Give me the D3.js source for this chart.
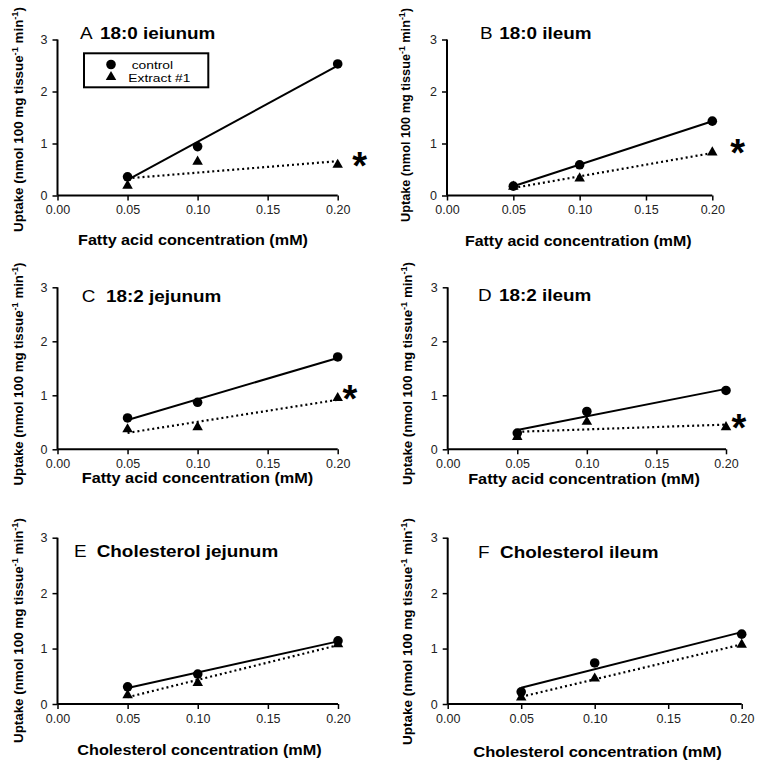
<!DOCTYPE html>
<html><head><meta charset="utf-8">
<script src="https://cdn.jsdelivr.net/npm/d3@7"></script>
<style>body{margin:0;background:#fff}svg{display:block}</style>
</head><body>
<script>
// ---------- DATA ----------
const concentrations = [0.05, 0.10, 0.20];
const xTickValues = [0.00, 0.05, 0.10, 0.15, 0.20];
const yTickValues = [0, 1, 2, 3];
const seriesNames = ["control", "Extract #1"];
const panelLetters = ["A", "B", "C", "D", "E", "F"];
const panelTitles = ["18:0 ieiunum", "18:0 ileum", "18:2 jejunum", "18:2 ileum", "Cholesterol jejunum", "Cholesterol ileum"];
const xAxisTitles = ["Fatty acid concentration (mM)", "Fatty acid concentration (mM)", "Fatty acid concentration (mM)", "Fatty acid concentration (mM)", "Cholesterol concentration (mM)", "Cholesterol concentration (mM)"];
const significant = [true, true, true, true, false, false];
const controlA = [0.36, 0.94, 2.53], extractA = [0.19, 0.65, 0.59];
const controlB = [0.18, 0.59, 1.43], extractB = [0.17, 0.33, 0.83];
const controlC = [0.58, 0.87, 1.71], extractC = [0.37, 0.41, 0.95];
const controlD = [0.30, 0.70, 1.09], extractD = [0.23, 0.51, 0.41];
const controlE = [0.31, 0.54, 1.14], extractE = [0.16, 0.38, 1.08];
const controlF = [0.22, 0.74, 1.26], extractF = [0.12, 0.46, 1.07];
const controlSeries = [controlA, controlB, controlC, controlD, controlE, controlF];
const extractSeries = [extractA, extractB, extractC, extractD, extractE, extractF];

// ---------- LAYOUT ----------
const layout = [
  {x0:57.5, x1:337.7, yb:195.5, yt:39.5, lx:80, tx:100, ty:39.3, ylx:23, yly:119.5, ylLen:225, xlx:193, xly:245, xlLen:230, ast:22},
  {x0:447, x1:712.3, yb:195.5, yt:39.5, lx:480, tx:499.3, ty:39, ylx:410, yly:115, ylLen:214, xlx:578.3, xly:245.7, xlLen:226.7, ast:25.4},
  {x0:57.5, x1:337.7, yb:449.3, yt:287.3, lx:81.7, tx:106, ty:301.7, ylx:23, yly:374, ylLen:223, xlx:197.5, xly:483.3, xlLen:231.6, ast:12.3},
  {x0:447.7, x1:726, yb:449.3, yt:287.3, lx:478, tx:499, ty:301, ylx:412, yly:373.5, ylLen:223, xlx:584, xly:484.3, xlLen:231.7, ast:13},
  {x0:57.5, x1:338, yb:704, yt:537.7, lx:74, tx:96.7, ty:556.7, ylx:23, yly:630.5, ylLen:225, xlx:199.5, xly:755, xlLen:244.4, ast:14},
  {x0:447.7, x1:741.7, yb:704, yt:537.7, lx:478, tx:500, ty:558, ylx:412, yly:631.5, ylLen:227, xlx:597.5, xly:756.7, xlLen:248.4, ast:14}
];
const FONT = "'Liberation Sans', Arial, Helvetica, sans-serif";

const svg = d3.select("body").append("svg").attr("width", 762).attr("height", 769)
  .style("font-family", FONT);

function stretch(sel, k) {
  sel.each(function () {
    const w = this.getComputedTextLength();
    d3.select(this).attr("textLength", w * k).attr("lengthAdjust", "spacingAndGlyphs");
  });
}
function regress(xs, ys) {
  const mx = d3.mean(xs), my = d3.mean(ys);
  let sxy = 0, sxx = 0;
  xs.forEach((x, i) => { sxy += (x - mx) * (ys[i] - my); sxx += (x - mx) * (x - mx); });
  const b = sxy / sxx, a = my - b * mx;
  return x => a + b * x;
}
const triangle = d3.symbol().type(d3.symbolTriangle).size(48);

layout.forEach((L, i) => {
  const g = svg.append("g");
  const x = d3.scaleLinear().domain([0, 0.2]).range([L.x0, L.x1]);
  const y = d3.scaleLinear().domain([0, 3]).range([L.yb, L.yt]);

  // axes
  const xAxis = g.append("g").attr("transform", `translate(0,${L.yb})`)
    .call(d3.axisBottom(x).tickValues(xTickValues).tickFormat(d3.format(".2f")).tickSize(5).tickPadding(5));
  const yAxis = g.append("g").attr("transform", `translate(${L.x0},0)`)
    .call(d3.axisLeft(y).tickValues(yTickValues).tickFormat(d3.format("d")).tickSize(5).tickPadding(5));
  [xAxis, yAxis].forEach(ax => {
    ax.select(".domain").attr("stroke", "#000").attr("stroke-width", 2);
    ax.selectAll(".tick line").attr("stroke", "#000").attr("stroke-width", 1.5);
    ax.selectAll(".tick text").attr("fill", "#222").style("font-size", "12.5px").style("font-family", FONT);
  });
  xAxis.select(".domain").attr("d", `M${L.x0},0H${L.x1}`);
  yAxis.select(".domain").attr("d", `M0,${L.yb}V${L.yt}`);

  // fit lines
  const ctrl = controlSeries[i], ext = extractSeries[i];
  const fc = regress(concentrations, ctrl), fe = regress(concentrations, ext);
  const xmin = d3.min(concentrations), xmax = d3.max(concentrations);
  const line = d3.line().x(d => x(d[0])).y(d => y(d[1]));
  g.append("path").attr("d", line([[xmin, fe(xmin)], [xmax, fe(xmax)]]))
    .attr("fill", "none").attr("stroke", "#000").attr("stroke-width", 2.2).attr("stroke-dasharray", "2,3");
  g.append("path").attr("d", line([[xmin, fc(xmin)], [xmax, fc(xmax)]]))
    .attr("fill", "none").attr("stroke", "#000").attr("stroke-width", 2);

  // markers
  g.selectAll(".tri").data(concentrations.map((c, j) => [c, ext[j]])).join("path")
    .attr("d", triangle).attr("transform", d => `translate(${x(d[0])},${y(d[1])})`).attr("fill", "#000");
  g.selectAll(".circ").data(concentrations.map((c, j) => [c, ctrl[j]])).join("circle")
    .attr("cx", d => x(d[0])).attr("cy", d => y(d[1])).attr("r", 4.8).attr("fill", "#000");

  // significance asterisk
  if (significant[i]) {
    const ax = x(xmax) + L.ast, ay = y(ext[ext.length - 1]);
    const t = g.append("text").text("*").attr("x", 0).attr("y", 0)
      .style("font-size", "38px").style("font-weight", "bold").attr("fill", "#000");
    const bb = t.node().getBBox();
    t.attr("x", ax - bb.width / 2).attr("y", ay + 0.6 * 38 * 0.6);
  }

  // panel title
  g.append("text").attr("x", L.lx).attr("y", L.ty).text(panelLetters[i])
    .style("font-size", "16px").call(stretch, 1.18);
  g.append("text").attr("x", L.tx).attr("y", L.ty).text(panelTitles[i])
    .style("font-size", "16px").style("font-weight", "bold").call(stretch, 1.18);

  // x axis title
  g.append("text").attr("x", L.xlx).attr("y", L.xly).attr("text-anchor", "middle")
    .style("font-size", "14px").style("font-weight", "bold").text(xAxisTitles[i])
    .attr("textLength", L.xlLen).attr("lengthAdjust", "spacingAndGlyphs");

  // y axis title
  const yt = g.append("text").attr("transform", `translate(${L.ylx},${L.yly}) rotate(-90)`)
    .attr("text-anchor", "middle").style("font-size", "13px").style("font-weight", "bold");
  yt.append("tspan").text("Uptake (nmol 100 mg tissue");
  yt.append("tspan").text("-1").style("font-size", "9px").attr("dy", -5);
  yt.append("tspan").text(" min").attr("dy", 5);
  yt.append("tspan").text("-1").style("font-size", "9px").attr("dy", -5);
  yt.append("tspan").text(")").attr("dy", 5);
  yt.attr("textLength", L.ylLen).attr("lengthAdjust", "spacingAndGlyphs");

  // legend (panel A only)
  if (i === 0) {
    const lg = g.append("g");
    lg.append("rect").attr("x", 84).attr("y", 53.3).attr("width", 124.3).attr("height", 34)
      .attr("fill", "#fff").attr("stroke", "#000").attr("stroke-width", 2);
    lg.append("circle").attr("cx", 111).attr("cy", 64.5).attr("r", 4.8).attr("fill", "#000");
    lg.append("path").attr("d", triangle).attr("transform", "translate(111,77)").attr("fill", "#000");
    lg.append("text").attr("x", 131.7).attr("y", 68.6).text(seriesNames[0]).style("font-size", "11.5px").call(stretch, 1.2);
    lg.append("text").attr("x", 128.3).attr("y", 81.8).text(seriesNames[1]).style("font-size", "11.5px").call(stretch, 1.2);
  }
});
</script>
</body></html>
